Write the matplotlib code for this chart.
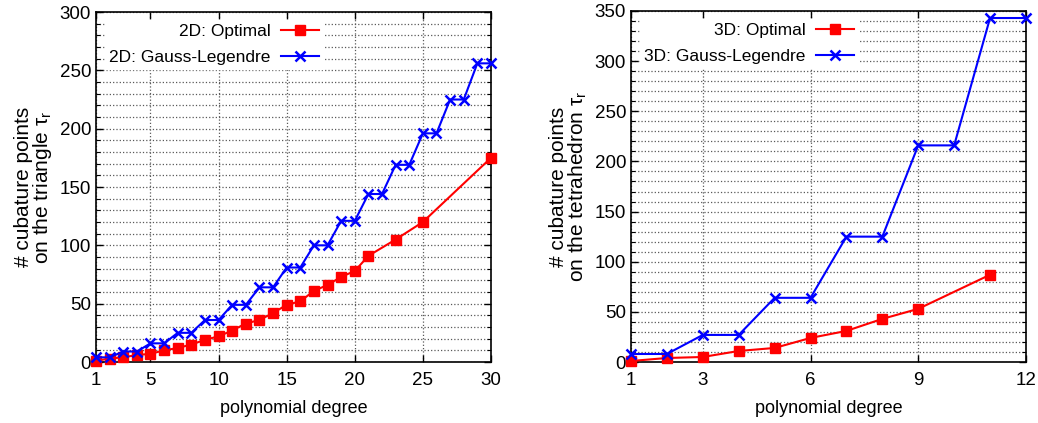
import numpy as np
import matplotlib.pyplot as plt
from matplotlib.ticker import MultipleLocator

plt.rcParams['font.family'] = ['Liberation Sans', 'DejaVu Sans']
plt.rcParams['mathtext.fontset'] = 'custom'
plt.rcParams['mathtext.rm'] = 'Liberation Sans'
plt.rcParams['mathtext.it'] = 'Liberation Sans:italic'

# 2D (triangle)
deg_2d_opt = [1, 2, 3, 4, 5, 6, 7, 8, 9, 10, 11, 12, 13, 14, 15, 16, 17, 18, 19, 20, 21, 23, 25, 30]
pts_2d_opt = [1, 3, 4, 6, 7, 10, 12, 15, 19, 22, 27, 33, 36, 42, 49, 52, 61, 66, 73, 78, 91, 105, 120, 175]
deg_2d_gl = list(range(1, 31))
pts_2d_gl = [4, 4, 9, 9, 16, 16, 25, 25, 36, 36, 49, 49, 64, 64, 81, 81,
             100, 100, 121, 121, 144, 144, 169, 169, 196, 196, 225, 225, 256, 256]

# 3D (tetrahedron)
deg_3d_opt = [1, 2, 3, 4, 5, 6, 7, 8, 9, 11]
pts_3d_opt = [1, 4, 5, 11, 14, 24, 31, 43, 53, 87]
deg_3d_gl = list(range(1, 13))
pts_3d_gl = [8, 8, 27, 27, 64, 64, 125, 125, 216, 216, 343, 343]

fig = plt.figure(figsize=(10.38, 4.23), dpi=100)
ax1 = fig.add_axes([0.0925, 0.1442, 0.3805, 0.8274])
ax2 = fig.add_axes([0.6079, 0.1442, 0.3805, 0.8298])


def style(ax, xticks, xlim, ylim, ylab):
    ax.set_xlim(*xlim)
    ax.set_ylim(*ylim)
    ax.set_xticks(xticks)
    ax.yaxis.set_major_locator(MultipleLocator(50))
    ax.yaxis.set_minor_locator(MultipleLocator(10))
    ax.tick_params(which='both', direction='in', top=True, right=True, labelsize=13.5)
    ax.tick_params(which='major', length=5, width=1)
    ax.tick_params(which='minor', length=3, width=0.8)
    ax.tick_params(axis='x', pad=7)
    ax.grid(True, which='major', axis='x', linestyle=':', color='0.35', linewidth=0.9)
    ax.grid(True, which='both', axis='y', linestyle=':', color='0.35', linewidth=0.9)
    ax.set_axisbelow(True)
    for s in ax.spines.values():
        s.set_linewidth(1.2)
    ax.set_xlabel('polynomial degree', fontsize=13, labelpad=8)
    ax.set_ylabel(ylab, fontsize=15, linespacing=0.9, labelpad=4)


ax1.plot(deg_2d_opt, pts_2d_opt, color='red', marker='s', markersize=7,
         linewidth=1.5, label='2D: Optimal', clip_on=False, zorder=3)
ax1.plot(deg_2d_gl, pts_2d_gl, color='blue', marker='x', markersize=7, markeredgewidth=1.8,
         linewidth=1.5, label='2D: Gauss-Legendre', clip_on=False, zorder=3)
style(ax1, [1, 5, 10, 15, 20, 25, 30], (1, 30), (0, 300),
      '# cubature points\non the triangle $\\mathrm{\\tau_r}$')

ax2.plot(deg_3d_opt, pts_3d_opt, color='red', marker='s', markersize=7,
         linewidth=1.5, label='3D: Optimal', clip_on=False, zorder=3)
ax2.plot(deg_3d_gl, pts_3d_gl, color='blue', marker='x', markersize=7, markeredgewidth=1.8,
         linewidth=1.5, label='3D: Gauss-Legendre', clip_on=False, zorder=3)
style(ax2, [1, 3, 6, 9, 12], (1, 12), (0, 350),
      '# cubature points\non the tetrahedron $\\mathrm{\\tau_r}$')

for ax in (ax1, ax2):
    leg = ax.legend(loc='upper left', bbox_to_anchor=(0.0, 1.003), markerfirst=False,
                    fontsize=12.5, frameon=True, fancybox=False, handlelength=2.2,
                    borderpad=0.25, labelspacing=0.6, handletextpad=0.6)
    leg.get_frame().set_edgecolor('white')
    leg.get_frame().set_facecolor('white')
    leg.get_frame().set_alpha(1)
    leg._legend_box.align = 'right'

fig.savefig('out.png', dpi=100)
